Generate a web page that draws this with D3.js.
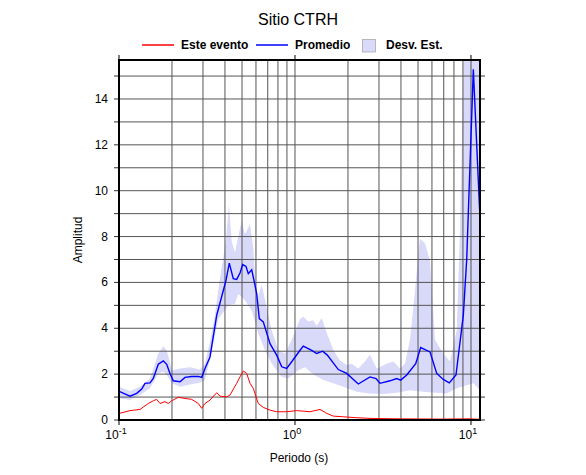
<!DOCTYPE html>
<html>
<head>
<meta charset="utf-8">
<script src="https://cdn.jsdelivr.net/npm/d3@7"></script>
<style>
body { margin: 0; background: #fff; }
text { font-family: "Liberation Sans", Arial, Helvetica, sans-serif; }
</style>
</head>
<body>
<script>
// periodo (s), amplitud
let este_evento = [[0.1006,0.29],[0.1155,0.41],[0.1316,0.46],[0.1467,0.72],[0.1566,0.84],[0.1637,0.9],[0.1709,0.72],
    [0.1825,0.8],[0.1906,0.72],[0.1993,0.84],[0.2173,0.99],[0.2371,0.94],[0.2588,0.9],[0.2822,0.72],[0.2950,0.51],
    [0.3081,0.72],[0.3289,0.87],[0.3591,1.19],[0.3748,1.04],[0.4092,1.01],[0.4272,1.09],[0.4664,1.6],[0.4870,1.88],
    [0.5085,2.14],[0.5315,2.03],[0.5549,1.6],[0.5794,1.38],[0.6186,0.72],[0.6605,0.55],[0.7211,0.43],[0.7870,0.36],
    [0.8971,0.36],[1.022,0.41],[1.140,0.38],[1.217,0.36],[1.387,0.46],[1.514,0.29],[1.651,0.17],[1.881,0.14],
    [2.242,0.1],[2.668,0.07],[3.951,0.05],[6.667,0.04],[9.87,0.05],[11.25,0.03]]

let promedio = [[0.100,1.25],[0.1155,1.04],[0.1260,1.16],[0.1346,1.35],[0.1405,1.6],[0.150,1.62],[0.1566,1.81],
    [0.1672,2.43],[0.1785,2.58],[0.1866,2.43],[0.1949,2.03],[0.2035,1.71],[0.2222,1.67],[0.2371,1.86],[0.2588,1.9],
    [0.2822,1.9],[0.2950,1.86],[0.3081,2.25],[0.3289,2.75],[0.3591,4.57],[0.3914,5.65],[0.4055,6.09],[0.4233,6.84],
    [0.4460,6.16],[0.4664,6.13],[0.4870,6.41],[0.5045,6.78],[0.5267,6.7],[0.5428,6.38],[0.5675,6.55],[0.5848,6.09],
    [0.6058,5.51],[0.6268,4.42],[0.6605,4.28],[0.7211,3.33],[0.7870,2.83],[0.8404,2.32],[0.8971,2.25],[0.9578,2.54],
    [1.068,3.04],[1.115,3.22],[1.244,3.04],[1.328,2.9],[1.437,3.0],[1.526,2.83],[1.762,2.2],[1.967,2.03],[2.289,1.57],
    [2.668,1.88],[2.885,1.81],[3.041,1.6],[3.466,1.71],[3.783,1.81],[3.987,1.74],[4.313,1.96],[4.852,2.46],[5.178,3.16],
    [5.848,2.97],[6.386,2.03],[6.961,1.77],[7.527,1.62],[8.217,1.96],[9.045,4.57],[9.454,7.0],[10.31,15.3],[11.25,8.8]]

let desv_sup = [[0.100,1.45],[0.1155,1.27],[0.1316,1.45],[0.150,1.81],[0.1672,2.9],[0.1785,3.22],[0.1866,3.04],
    [0.2000,2.17],[0.2222,2.25],[0.2531,2.3],[0.2885,2.2],[0.3081,2.46],[0.3289,3.4],[0.3511,4.6],[0.3700,5.9],
    [0.3899,7.0],[0.4055,7.9],[0.4217,9.4],[0.4367,7.8],[0.4560,7.3],[0.4761,8.0],[0.4979,8.7],[0.5198,8.1],
    [0.5549,8.55],[0.5794,7.5],[0.6058,5.2],[0.6469,5.9],[0.6904,4.9],[0.7373,3.9],[0.8038,3.05],[0.8774,2.9],
    [0.9578,3.5],[1.068,4.4],[1.115,4.5],[1.190,4.3],[1.270,4.35],[1.328,4.1],[1.418,4.45],[1.514,3.8],[1.651,3.05],
    [1.802,2.6],[1.967,2.4],[2.101,2.45],[2.289,2.25],[2.498,2.55],[2.668,2.85],[2.764,2.6],[2.912,2.25],[3.319,2.45],
    [3.618,2.55],[3.951,2.25],[4.217,2.45],[4.501,3.5],[4.807,5.65],[5.019,7.25],[5.130,7.9],[5.477,7.7],[5.848,6.95],
    [6.245,3.5],[6.961,2.9],[7.597,2.55],[8.294,3.9],[8.660,8.3],[9.126,16.5],[11.25,20]]

let desv_inf = [[0.100,0.95],[0.1155,0.87],[0.1316,1.09],[0.150,1.38],[0.1672,2.03],[0.1785,2.1],[0.187,1.95],
    [0.200,1.6],[0.2222,1.45],[0.2531,1.55],[0.2885,1.62],[0.3081,1.74],[0.3363,3.0],[0.3667,4.4],[0.4178,5.0],
    [0.4560,5.07],[0.4761,5.5],[0.5198,5.22],[0.5675,4.78],[0.6186,3.77],[0.6751,3.04],[0.7373,2.46],[0.8404,1.88],
    [0.9161,1.81],[1.044,2.17],[1.140,2.3],[1.265,2.0],[1.448,1.74],[1.651,1.6],[1.881,1.45],[2.242,1.23],[2.668,1.16],
    [3.177,1.13],[3.783,1.19],[4.501,1.3],[5.358,1.23],[6.386,1.19],[7.275,1.16],[8.294,1.38],[9.454,1.52],[10.31,1.6],
    [11.25,1.3]]

let x_decadas = [0.1, 1, 10]
let x_exp = ["-1", "0", "1"]
let x_grid = [0.2,0.3,0.4,0.5,0.6,0.7,0.8,0.9,1,2,3,4,5,6,7,8,9,10]
let y_labels = [0, 2, 4, 6, 8, 10, 12, 14]
let y_grid = d3.range(1, 16)

let W = 586, H = 475
let m_left = 119, m_right = 480, m_top = 60, m_bottom = 420

let svg = d3.select("body").append("svg")
    .attr("width", W)
    .attr("height", H)

let x = d3.scaleLog().domain([0.1, 11.25]).range([m_left, m_right])
let y = d3.scaleLinear().domain([0, 15.7]).range([m_bottom, m_top])

svg.append("clipPath").attr("id", "clip")
    .append("rect")
    .attr("x", m_left).attr("y", m_top)
    .attr("width", m_right - m_left).attr("height", m_bottom - m_top)

let plot = svg.append("g").attr("clip-path", "url(#clip)")

// banda de desviacion
let banda = desv_sup.concat(desv_inf.slice().reverse())
plot.append("path")
    .attr("d", d3.line().x(d => x(d[0])).y(d => y(d[1]))(banda) + "Z")
    .attr("fill", "#d9d9f9")
    .attr("stroke", "none")

// grilla
plot.selectAll(".gx").data(x_grid).enter().append("line")
    .attr("x1", d => x(d)).attr("x2", d => x(d))
    .attr("y1", m_top).attr("y2", m_bottom)
    .attr("stroke", "#555").attr("stroke-width", 1)
plot.selectAll(".gy").data(y_grid).enter().append("line")
    .attr("x1", m_left).attr("x2", m_right)
    .attr("y1", d => y(d)).attr("y2", d => y(d))
    .attr("stroke", "#555").attr("stroke-width", 1)

let linea = d3.line().x(d => x(d[0])).y(d => y(d[1]))

plot.append("path")
    .attr("d", linea(este_evento))
    .attr("fill", "none")
    .attr("stroke", "#ff0000")
    .attr("stroke-width", 1)

plot.append("path")
    .attr("d", linea(promedio))
    .attr("fill", "none")
    .attr("stroke", "#0000ff")
    .attr("stroke-width", 1.4)

// ticks
svg.selectAll(".ty").data(d3.range(0, 16)).enter().append("line")
    .attr("x1", m_left - 5).attr("x2", m_left)
    .attr("y1", d => y(d)).attr("y2", d => y(d))
    .attr("stroke", "#333")
svg.selectAll(".tyr").data(d3.range(0, 16)).enter().append("line")
    .attr("x1", m_right).attr("x2", m_right + 5)
    .attr("y1", d => y(d)).attr("y2", d => y(d))
    .attr("stroke", "#333")
svg.selectAll(".txb").data(x_decadas).enter().append("line")
    .attr("x1", d => x(d)).attr("x2", d => x(d))
    .attr("y1", m_bottom).attr("y2", m_bottom + 5)
    .attr("stroke", "#000")
svg.selectAll(".txt").data(x_decadas).enter().append("line")
    .attr("x1", d => x(d)).attr("x2", d => x(d))
    .attr("y1", m_top - 5).attr("y2", m_top)
    .attr("stroke", "#000")

svg.append("rect")
    .attr("x", m_left).attr("y", m_top)
    .attr("width", m_right - m_left).attr("height", m_bottom - m_top)
    .attr("fill", "none")
    .attr("stroke", "#000")
    .attr("stroke-width", 2)

svg.selectAll(".ly").data(y_labels).enter().append("text")
    .attr("x", 108)
    .attr("y", d => y(d) + 4)
    .attr("text-anchor", "end")
    .style("font-size", "12px")
    .text(d => d)

let lx = svg.selectAll(".lx").data(x_decadas).enter().append("text")
    .attr("x", d => x(d) - 3)
    .attr("y", 439)
    .attr("text-anchor", "middle")
    .style("font-size", "12px")
lx.append("tspan").text("10")
lx.append("tspan")
    .attr("dy", -5)
    .style("font-size", "9px")
    .text((d, i) => x_exp[i])

svg.append("text")
    .attr("x", 299).attr("y", 462)
    .attr("text-anchor", "middle")
    .style("font-size", "12px")
    .text("Periodo (s)")

svg.append("text")
    .attr("transform", "translate(82,240) rotate(-90)")
    .attr("text-anchor", "middle")
    .style("font-size", "12px")
    .text("Amplitud")

svg.append("text")
    .attr("x", 298).attr("y", 25)
    .attr("text-anchor", "middle")
    .style("font-size", "16px")
    .text("Sitio CTRH")

// leyenda
svg.append("line")
    .attr("x1", 142).attr("x2", 174).attr("y1", 45).attr("y2", 45)
    .attr("stroke", "#ff0000").attr("stroke-width", 1.5)
svg.append("text")
    .attr("x", 181).attr("y", 49)
    .style("font-size", "12px").style("font-weight", "bold")
    .text("Este evento")
svg.append("line")
    .attr("x1", 256).attr("x2", 288).attr("y1", 45).attr("y2", 45)
    .attr("stroke", "#0000ff").attr("stroke-width", 1.5)
svg.append("text")
    .attr("x", 295).attr("y", 49)
    .style("font-size", "12px").style("font-weight", "bold")
    .text("Promedio")
svg.append("rect")
    .attr("x", 362.5).attr("y", 39.5).attr("width", 13).attr("height", 12.5)
    .attr("fill", "#d9d9f9").attr("stroke", "#aaa").attr("stroke-width", 0.8)
svg.append("text")
    .attr("x", 386).attr("y", 49)
    .style("font-size", "12px").style("font-weight", "bold")
    .text("Desv. Est.")
</script>
</body>
</html>
